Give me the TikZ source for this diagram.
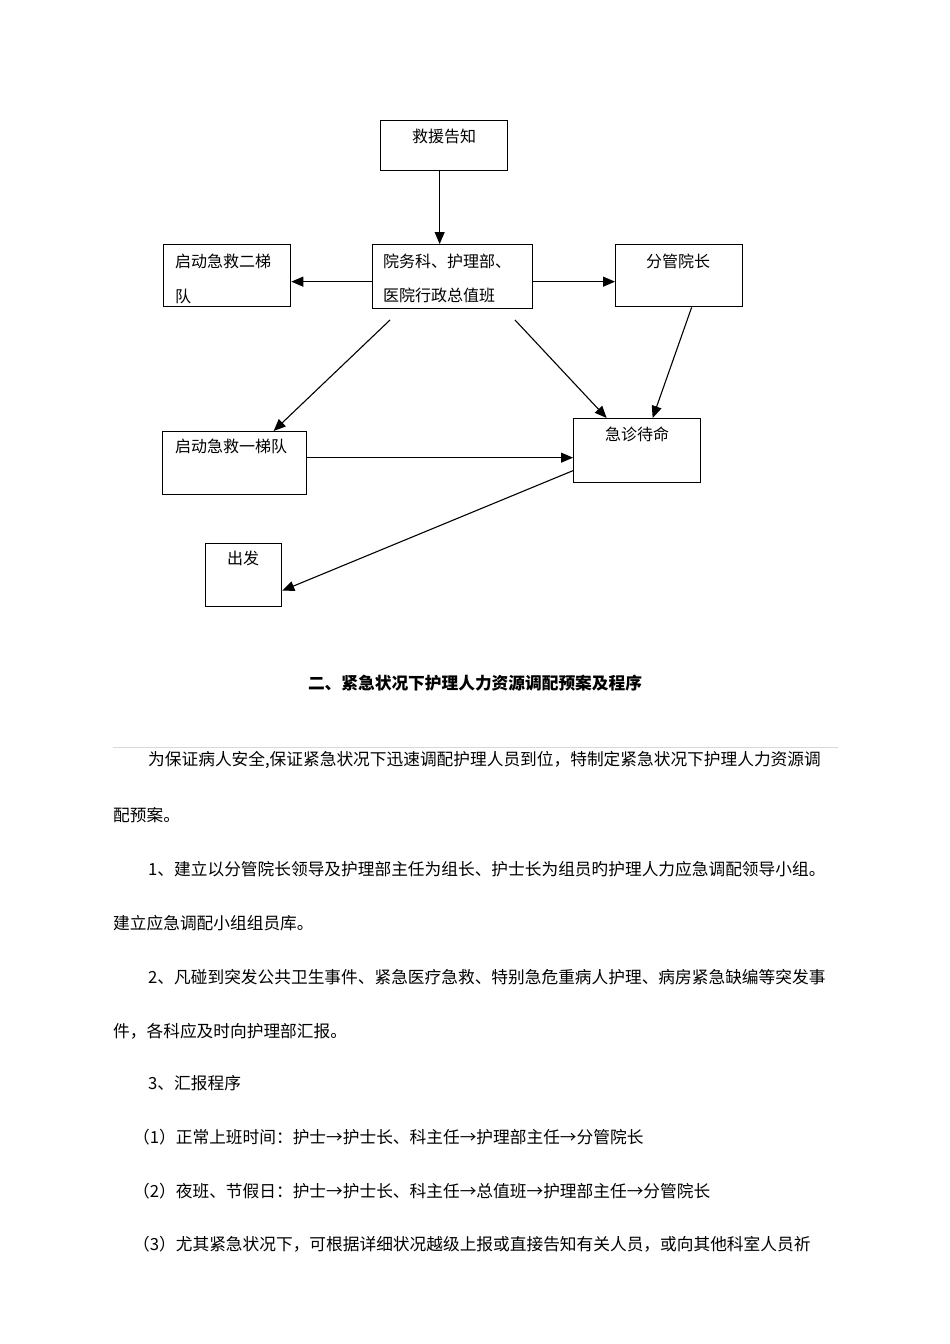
\documentclass[tikz,border=0pt]{standalone}
\usepackage{fontspec}
\setmainfont{Noto Sans CJK SC}
\usetikzlibrary{arrows.meta}
\begin{document}
\begin{tikzpicture}[x=1pt,y=-1pt,
  box/.style={draw,line width=1.3pt,inner sep=0,anchor=north west},
  lbl/.style={inner sep=0,font=\fontsize{16}{20}\selectfont},
  body/.style={inner sep=0,anchor=west,font=\fontsize{16.7}{20}\selectfont},
  conn/.style={line width=1.1pt,-{Triangle[length=12pt,width=10pt]}}]
\useasboundingbox (0,0) rectangle (950,1344);

% boxes
\node[box,minimum width=127pt,minimum height=50pt] (jy) at (380,120) {};
\node[box,minimum width=160pt,minimum height=64pt] (yw) at (372,244) {};
\node[box,minimum width=127pt,minimum height=62pt] (er) at (163,244) {};
\node[box,minimum width=127pt,minimum height=62pt] (fg) at (615,244) {};
\node[box,minimum width=144pt,minimum height=63pt] (yi) at (162,431) {};
\node[box,minimum width=127pt,minimum height=64pt] (jz) at (573,418) {};
\node[box,minimum width=76pt,minimum height=63pt] (cf) at (205,543) {};

% labels
\node[lbl] (tjy) at (444,136) {救援告知};
\node[lbl,anchor=west] (tyw1) at (383,261) {院务科、护理部、};
\node[lbl,anchor=west] (tyw2) at (383,295) {医院行政总值班};
\node[lbl,anchor=west] (ter1) at (175,261) {启动急救二梯};
\node[lbl,anchor=west] (ter2) at (175,296) {队};
\node[lbl] (tfg) at (678,261) {分管院长};
\node[lbl,anchor=west] (tyi) at (175,446) {启动急救一梯队};
\node[lbl] (tjz) at (637,434) {急诊待命};
\node[lbl] (tcf) at (243,558) {出发};

% connectors
\coordinate (s1) at (390,320);
\coordinate (s2) at (515,320);
\draw[conn] ([xshift=-4.5pt]jy.south) -- ([xshift=-13pt]yw.north);
\draw[conn] ([yshift=-5pt]yw.west) -- ([yshift=-6pt]er.east);
\draw[conn] ([yshift=-5pt]yw.east) -- ([yshift=-6pt]fg.west);
\draw[conn] (s1) -- ([xshift=39pt]yi.north);
\draw[conn] (s2) -- ([xshift=-30.5pt]jz.north);
\draw[conn] ([xshift=12.5pt]fg.south) -- ([xshift=15.5pt]jz.north);
\draw[conn] ([yshift=5.5pt]yi.east) -- ([yshift=-7pt]jz.west);
\draw[conn] ([yshift=-20pt]jz.west) -- ([yshift=-15.5pt]cf.east);

% heading and text
\node[inner sep=0,font=\fontsize{16.7}{20}\selectfont\bfseries] (head) at (475,683) {二、紧急状况下护理人力资源调配预案及程序};
\draw[black!15,line width=0.8pt] (113,747) -- (838,747);
\node[body] (p1) at (148,760) {为保证病人安全,保证紧急状况下迅速调配护理人员到位，特制定紧急状况下护理人力资源调};
\node[body] (p2) at (113,815) {配预案。};
\node[body] (p3) at (148,869) {1、建立以分管院长领导及护理部主任为组长、护士长为组员旳护理人力应急调配领导小组。};
\node[body] (p4) at (113,923) {建立应急调配小组组员库。};
\node[body] (p5) at (148,977) {2、凡碰到突发公共卫生事件、紧急医疗急救、特别急危重病人护理、病房紧急缺编等突发事};
\node[body] (p6) at (113,1031) {件，各科应及时向护理部汇报。};
\node[body] (p7) at (148,1083) {3、汇报程序};
\node[body] (p8) at (133,1137) {（1）正常上班时间：护士→护士长、科主任→护理部主任→分管院长};
\node[body] (p9) at (133,1191) {（2）夜班、节假日：护士→护士长、科主任→总值班→护理部主任→分管院长};
\node[body] (p10) at (133,1244) {（3）尤其紧急状况下，可根据详细状况越级上报或直接告知有关人员，或向其他科室人员祈};
\end{tikzpicture}
\end{document}
